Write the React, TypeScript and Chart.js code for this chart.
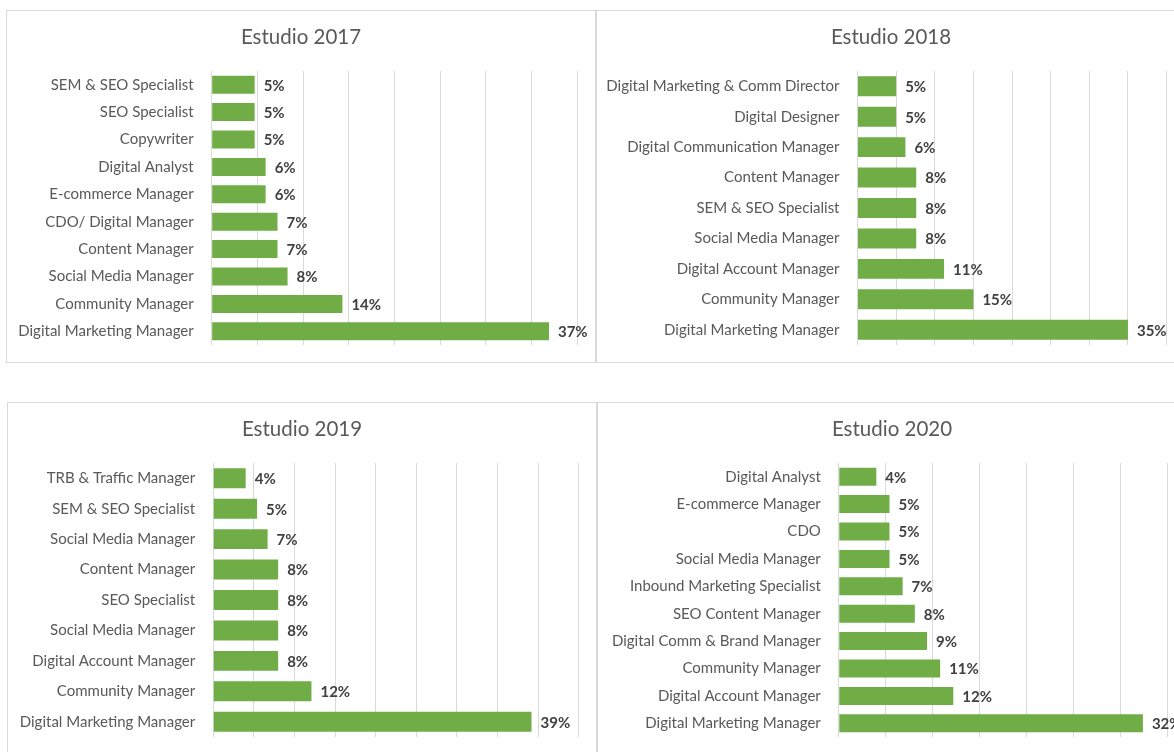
import React, { useEffect, useRef } from 'react';
import { Chart, registerables } from 'chart.js';

Chart.register(...registerables);

const FONT = 'Lato, "Noto Sans", sans-serif';

// ---------- data ----------
const title2017 = 'Estudio 2017';
const cats2017 = [
  'SEM & SEO Specialist',
  'SEO Specialist',
  'Copywriter',
  'Digital Analyst',
  'E-commerce Manager',
  'CDO/ Digital Manager',
  'Content Manager',
  'Social Media Manager',
  'Community Manager',
  'Digital Marketing Manager',
];
const vals2017 = [4.7, 4.7, 4.7, 5.9, 5.9, 7.2, 7.2, 8.3, 14.3, 36.9];

const title2018 = 'Estudio 2018';
const cats2018 = [
  'Digital Marketing & Comm Director',
  'Digital Designer',
  'Digital Communication Manager',
  'Content Manager',
  'SEM & SEO Specialist',
  'Social Media Manager',
  'Digital Account Manager',
  'Community Manager',
  'Digital Marketing Manager',
];
const vals2018 = [5.0, 5.0, 6.2, 7.6, 7.6, 7.6, 11.2, 15.0, 35.0];

const title2019 = 'Estudio 2019';
const cats2019 = [
  'TRB & Traffic Manager',
  'SEM & SEO Specialist',
  'Social Media Manager',
  'Content Manager',
  'SEO Specialist',
  'Social Media Manager',
  'Digital Account Manager',
  'Community Manager',
  'Digital Marketing Manager',
];
const vals2019 = [4.0, 5.4, 6.7, 8.0, 8.0, 8.0, 8.0, 12.1, 39.2];

const title2020 = 'Estudio 2020';
const cats2020 = [
  'Digital Analyst',
  'E-commerce Manager',
  'CDO',
  'Social Media Manager',
  'Inbound Marketing Specialist',
  'SEO Content Manager',
  'Digital Comm & Brand Manager',
  'Community Manager',
  'Digital Account Manager',
  'Digital Marketing Manager',
];
const vals2020 = [4.0, 5.4, 5.4, 5.4, 6.8, 8.1, 9.4, 10.8, 12.2, 32.4];

const axisMax = [40, 40, 45, 35];
const axisStep = 5;

// ---------- layout ----------
const INNER_W = 588;
const INNER_H = 351;
const PLOT_TOP = 60;
const PLOT_BOTTOM = 334;
const TITLE_Y = 26;
const TITLE_SIZE = 20.5;

type PanelCfg = {
  title: string;
  cats: string[];
  vals: number[];
  max: number;
  left: number;
  top: number;
  axisLeft: number;
  axisRight: number;
};

const panels: PanelCfg[] = [
  { title: title2017, cats: cats2017, vals: vals2017, max: axisMax[0], left: 6, top: 10, axisLeft: 204.7, axisRight: 570.3 },
  { title: title2018, cats: cats2018, vals: vals2018, max: axisMax[1], left: 596, top: 10, axisLeft: 260.5, axisRight: 569.6 },
  { title: title2019, cats: cats2019, vals: vals2019, max: axisMax[2], left: 7, top: 402, axisLeft: 205.2, axisRight: 570.6 },
  { title: title2020, cats: cats2020, vals: vals2020, max: axisMax[3], left: 597, top: 402, axisLeft: 240.8, axisRight: 569.3 },
];

const valueLabelPlugin = {
  id: 'valueLabels',
  afterDatasetsDraw(chart: any) {
    const ctx = chart.ctx;
    ctx.save();
    ctx.font = `bold 15px ${FONT}`;
    ctx.fillStyle = '#404040';
    ctx.textAlign = 'left';
    ctx.textBaseline = 'middle';
    chart.data.datasets.forEach((ds: any, di: number) => {
      const meta = chart.getDatasetMeta(di);
      meta.data.forEach((bar: any, i: number) => {
        const v = ds.data[i];
        ctx.fillText(`${Math.round(v)}%`, bar.x + 9, bar.y + 1);
      });
    });
    ctx.restore();
  },
};

const centerTitlePlugin = {
  id: 'centerTitle',
  afterDraw(chart: any, _args: any, opts: any) {
    const ctx = chart.ctx;
    ctx.save();
    ctx.font = `${TITLE_SIZE}px ${FONT}`;
    ctx.fillStyle = '#595959';
    ctx.textAlign = 'center';
    ctx.textBaseline = 'middle';
    ctx.fillText(opts.text, chart.width / 2, TITLE_Y);
    ctx.restore();
  },
};

function Panel({ cfg }: { cfg: PanelCfg }) {
  const ref = useRef<HTMLCanvasElement | null>(null);
  useEffect(() => {
    if (!ref.current) return;
    const chart = new Chart(ref.current, {
      type: 'bar',
      data: {
        labels: cfg.cats,
        datasets: [
          {
            data: cfg.vals,
            backgroundColor: '#70AD47',
            borderWidth: 0,
            barPercentage: 0.656,
            categoryPercentage: 1,
          },
        ],
      },
      options: {
        indexAxis: 'y',
        animation: false,
        responsive: false,
        layout: {
          padding: { left: 0, top: PLOT_TOP, right: INNER_W - cfg.axisRight, bottom: INNER_H - PLOT_BOTTOM },
        },
        plugins: {
          legend: { display: false },
          tooltip: { enabled: false },
          title: { display: false },
          centerTitle: { text: cfg.title },
        },
        scales: {
          x: {
            type: 'linear',
            min: 0,
            max: cfg.max,
            ticks: { display: false, stepSize: axisStep },
            grid: { color: '#D9D9D9', lineWidth: 1, drawTicks: false },
            border: { display: false },
            afterFit: (s: any) => {
              s.height = 0;
              s.paddingLeft = 0;
              s.paddingRight = 0;
            },
          },
          y: {
            type: 'category',
            grid: { display: false, drawTicks: false },
            border: { display: false },
            ticks: {
              color: '#595959',
              padding: 18,
              font: { family: FONT, size: 15 },
              autoSkip: false,
            },
            afterFit: (s: any) => {
              s.width = cfg.axisLeft;
              s.paddingTop = 0;
              s.paddingBottom = 0;
            },
          },
        },
      } as any,
      plugins: [valueLabelPlugin, centerTitlePlugin],
    });
    return () => chart.destroy();
  }, [cfg]);

  return (
    <div
      style={{
        position: 'absolute',
        left: cfg.left,
        top: cfg.top,
        width: INNER_W,
        height: INNER_H,
        border: '1px solid #D9D9D9',
        background: '#ffffff',
      }}
    >
      <canvas
        ref={ref}
        width={INNER_W}
        height={INNER_H}
        style={{ display: 'block', width: INNER_W, height: INNER_H }}
      />
    </div>
  );
}

export default function App() {
  return (
    <div
      style={{
        position: 'fixed',
        left: 0,
        top: 0,
        width: 1174,
        height: 752,
        overflow: 'hidden',
        background: '#ffffff',
      }}
    >
      {panels.map((p, i) => (
        <Panel key={i} cfg={p} />
      ))}
    </div>
  );
}
